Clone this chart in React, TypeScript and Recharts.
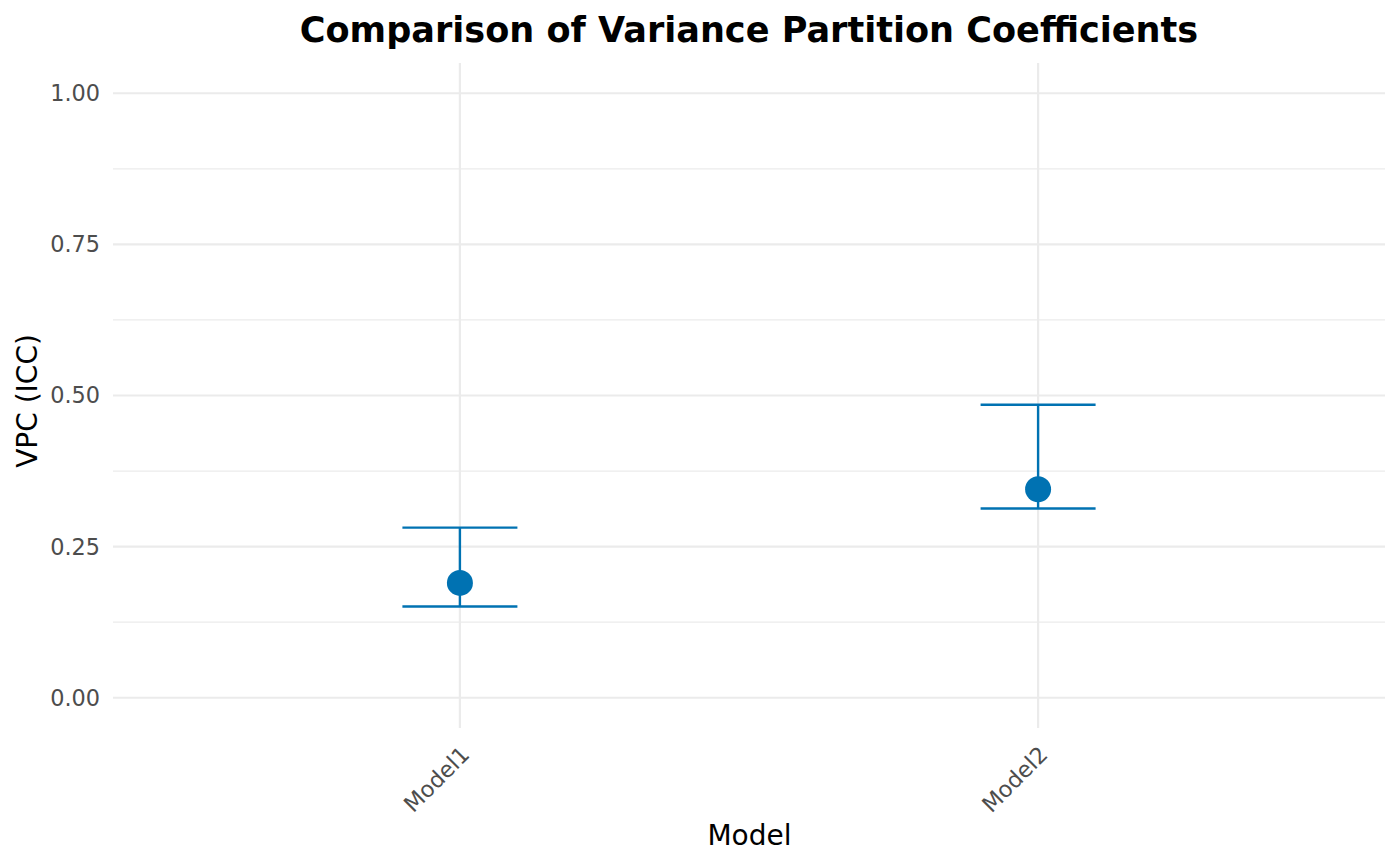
import { ScatterChart, Scatter, XAxis, YAxis, CartesianGrid, ErrorBar } from 'recharts';

const models = ['Model1', 'Model2'];
const vpc = [0.19, 0.345];
const lower = [0.151, 0.313];
const upper = [0.2815, 0.4848];
const yTicks = [0, 0.25, 0.5, 0.75, 1];
const yMinor = [0.125, 0.375, 0.625, 0.875];

const data = models.map((m, i) => ({
  x: i,
  model: m,
  vpc: vpc[i],
  err: [vpc[i] - lower[i], upper[i] - vpc[i]],
}));

const BLUE = '#0072B2';
const FONT = '"DejaVu Sans", sans-serif';

const ModelTick = ({ x, y, payload }: any) => {
  const ax = x + 11;
  const ay = y + 28;
  return (
    <text
      x={ax}
      y={ay}
      textAnchor="end"
      transform={`rotate(-45, ${ax}, ${ay})`}
      fill="#4D4D4D"
      fontSize={22.4}
      fontFamily={FONT}
    >
      {models[payload.value]}
    </text>
  );
};

const Dot = (props: any) => <circle cx={props.cx} cy={props.cy} r={13} fill={BLUE} />;

export default function App() {
  return (
    <div style={{ position: 'absolute', left: 0, top: 0, width: 1400, height: 866, background: '#fff', fontFamily: FONT }}>
      <ScatterChart width={1400} height={866} margin={{ top: 63, right: 15, bottom: 108, left: 0 }}>
        <CartesianGrid horizontalValues={yMinor} vertical={false} stroke="#EBEBEB" strokeWidth={1.2} />
        <CartesianGrid horizontalValues={yTicks} verticalValues={[0, 1]} stroke="#EBEBEB" strokeWidth={2.2} />
        <XAxis
          type="number"
          dataKey="x"
          height={30}
          domain={[-0.6, 1.6]}
          ticks={[0, 1]}
          allowDataOverflow
          axisLine={false}
          tickLine={false}
          tickSize={0}
          tickMargin={0}
          tick={<ModelTick />}
          interval={0}
        />
        <YAxis
          type="number"
          dataKey="vpc"
          width={113}
          domain={[-0.05, 1.05]}
          ticks={yTicks}
          allowDataOverflow
          axisLine={false}
          tickLine={false}
          tickSize={0}
          tickMargin={13}
          tickFormatter={(v: number) => v.toFixed(2)}
          tick={{ fill: '#4D4D4D', fontSize: 22.4, fontFamily: FONT }}
        />
        <Scatter data={data} fill={BLUE} shape={<Dot />} isAnimationActive={false}>
          <ErrorBar dataKey="err" direction="y" width={57.5} stroke={BLUE} strokeWidth={2.4} isAnimationActive={false} />
        </Scatter>
      </ScatterChart>
      <svg width={1400} height={866} style={{ position: 'absolute', left: 0, top: 0, pointerEvents: 'none' }}>
        <text x={749} y={41.5} textAnchor="middle" fontSize={35.1} fontWeight="bold" fontFamily={FONT} fill="#000">
          Comparison of Variance Partition Coefficients
        </text>
        <text x={36.5} y={401} textAnchor="middle" transform="rotate(-90, 36.5, 401)" fontSize={28} fontFamily={FONT} fill="#000">
          VPC (ICC)
        </text>
        <text x={749.5} y={845} textAnchor="middle" fontSize={28} fontFamily={FONT} fill="#000">
          Model
        </text>
      </svg>
    </div>
  );
}
